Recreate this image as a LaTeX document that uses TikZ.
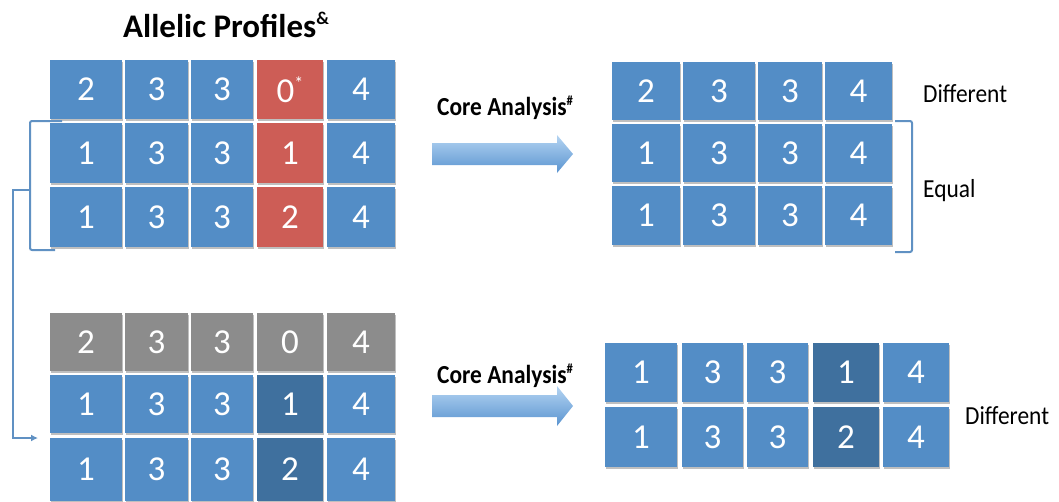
\documentclass[tikz,border=0pt]{standalone}
\usepackage{fontspec}
\setmainfont{Carlito}
\newfontfamily\labelfont[FakeStretch=0.9]{Carlito}
\usetikzlibrary{shadows,arrows.meta}

\definecolor{cellblue}{RGB}{83,141,198}
\definecolor{cellred}{RGB}{205,93,86}
\definecolor{cellgray}{RGB}{140,140,140}
\definecolor{celldark}{RGB}{63,112,158}
\definecolor{linkblue}{RGB}{96,145,195}
\definecolor{arrowlight}{RGB}{180,212,242}
\definecolor{arrowdark}{RGB}{90,148,208}

% one allele cell: name, x1, y1, x2, y2, fill colour, value
\newcommand\allelecell[7]{%
  \node[cellbox, fill=#6, minimum width={(#4-#2)*1pt}, minimum height={(#5-#3)*1pt}]
    (#1) at ({(#2+#4)/2},{(#3+#5)/2}) {#7};}

\tikzset{
  cellbox/.style={rectangle, inner sep=0pt, text=white,
    font=\fontsize{35}{35}\selectfont,
    drop shadow={shadow xshift=0.6pt, shadow yshift=-1.6pt, opacity=0.25, fill=black}},
  labeltext/.style={inner sep=0pt, text=black, font=\labelfont\bfseries\fontsize{26}{26}\selectfont},
  plaintext/.style={inner sep=0pt, text=black, font=\labelfont\fontsize{26}{26}\selectfont},
  titletext/.style={inner sep=0pt, text=black, font=\bfseries\fontsize{33}{33}\selectfont},
  linkline/.style={draw=linkblue, line width=2pt, rounded corners=2pt},
  bigarrow/.style={top color=arrowlight, bottom color=arrowdark, draw=none},
}
% raised small mark after a word or value
\newcommand\smallsup[2][15]{\raisebox{0.38em}{\fontsize{#1}{#1}\selectfont #2}}

\begin{document}
\begin{tikzpicture}[x=1pt, y=-1pt]
\useasboundingbox (0,0) rectangle (1059,501);

% title
\node[titletext, anchor=base west] (title) at (123,37) {Allelic Profiles\smallsup[18]{\&}};

% upper left: three profiles
\allelecell{a11}{50}{60}{122}{119}{cellblue}{2}
\allelecell{a12}{125}{60}{188}{119}{cellblue}{3}
\allelecell{a13}{191}{60}{253}{119}{cellblue}{3}
\allelecell{a14}{257}{60}{323}{119}{cellred}{0\smallsup[18]{*}}
\allelecell{a15}{327}{60}{395}{119}{cellblue}{4}
\allelecell{a21}{50}{123}{122}{183}{cellblue}{1}
\allelecell{a22}{125}{123}{188}{183}{cellblue}{3}
\allelecell{a23}{191}{123}{253}{183}{cellblue}{3}
\allelecell{a24}{257}{123}{323}{183}{cellred}{1}
\allelecell{a25}{327}{123}{395}{183}{cellblue}{4}
\allelecell{a31}{50}{187}{122}{247}{cellblue}{1}
\allelecell{a32}{125}{187}{188}{247}{cellblue}{3}
\allelecell{a33}{191}{187}{253}{247}{cellblue}{3}
\allelecell{a34}{257}{187}{323}{247}{cellred}{2}
\allelecell{a35}{327}{187}{395}{247}{cellblue}{4}

% upper right: core loci only
\allelecell{b11}{612}{62}{680}{120}{cellblue}{2}
\allelecell{b12}{683}{62}{755}{120}{cellblue}{3}
\allelecell{b13}{758}{62}{822}{120}{cellblue}{3}
\allelecell{b14}{825}{62}{892}{120}{cellblue}{4}
\allelecell{b21}{612}{124}{680}{182}{cellblue}{1}
\allelecell{b22}{683}{124}{755}{182}{cellblue}{3}
\allelecell{b23}{758}{124}{822}{182}{cellblue}{3}
\allelecell{b24}{825}{124}{892}{182}{cellblue}{4}
\allelecell{b31}{612}{186}{680}{245}{cellblue}{1}
\allelecell{b32}{683}{186}{755}{245}{cellblue}{3}
\allelecell{b33}{758}{186}{822}{245}{cellblue}{3}
\allelecell{b34}{825}{186}{892}{245}{cellblue}{4}

% lower left: profiles with the excluded one greyed
\allelecell{c11}{50}{313}{122}{371}{cellgray}{2}
\allelecell{c12}{125}{313}{188}{371}{cellgray}{3}
\allelecell{c13}{191}{313}{253}{371}{cellgray}{3}
\allelecell{c14}{257}{313}{323}{371}{cellgray}{0}
\allelecell{c15}{327}{313}{395}{371}{cellgray}{4}
\allelecell{c21}{50}{375}{122}{433}{cellblue}{1}
\allelecell{c22}{125}{375}{188}{433}{cellblue}{3}
\allelecell{c23}{191}{375}{253}{433}{cellblue}{3}
\allelecell{c24}{257}{375}{323}{433}{celldark}{1}
\allelecell{c25}{327}{375}{395}{433}{cellblue}{4}
\allelecell{c31}{50}{438}{122}{501}{cellblue}{1}
\allelecell{c32}{125}{438}{188}{501}{cellblue}{3}
\allelecell{c33}{191}{438}{253}{501}{cellblue}{3}
\allelecell{c34}{257}{438}{323}{501}{celldark}{2}
\allelecell{c35}{327}{438}{395}{501}{cellblue}{4}

% lower right
\allelecell{d11}{605}{343}{677}{402}{cellblue}{1}
\allelecell{d12}{682}{343}{743}{402}{cellblue}{3}
\allelecell{d13}{747}{343}{808}{402}{cellblue}{3}
\allelecell{d14}{813}{343}{879}{402}{celldark}{1}
\allelecell{d15}{883}{343}{949}{402}{cellblue}{4}
\allelecell{d21}{605}{407}{677}{467}{cellblue}{1}
\allelecell{d22}{682}{407}{743}{467}{cellblue}{3}
\allelecell{d23}{747}{407}{808}{467}{cellblue}{3}
\allelecell{d24}{813}{407}{879}{467}{celldark}{2}
\allelecell{d25}{883}{407}{949}{467}{cellblue}{4}

% core analysis arrows
\path[bigarrow] (432,143) -- (557,143) -- (557,135) -- (573,154) -- (557,173)
  -- (557,165) -- (432,165) -- cycle;
\node[labeltext, anchor=base west] (core1) at (437,115) {Core Analysis\smallsup[14]{\#}};
\path[bigarrow] (432,395) -- (557,395) -- (557,386) -- (573,406) -- (557,426)
  -- (557,417) -- (432,417) -- cycle;
\node[labeltext, anchor=base west] (core2) at (437,383) {Core Analysis\smallsup[14]{\#}};

% result labels
\node[plaintext, anchor=base west] (diff1) at (923,102) {Different};
\node[plaintext, anchor=base west] (equal) at (923,197) {Equal};
\node[plaintext, anchor=base west] (diff2) at (965,424) {Different};

% brackets and link
\coordinate (lbTop) at (62,121);
\coordinate (lbBot) at (55,250);
\coordinate (lbCorner) at (30,250);
\coordinate (lbMid) at (30,190);
\coordinate (linkEnd) at (38,438);
\draw[linkline] (lbTop) -| (lbCorner) -- (lbBot);
\draw[linkline, rounded corners=0pt, -{Latex[length=7pt,width=7pt]}]
  (lbMid) -| (13,438) -- (linkEnd);

\coordinate (rbTop) at (895,121);
\coordinate (rbBot) at (895,252);
\draw[linkline] (rbTop) -| (912,252) -- (rbBot);
\end{tikzpicture}
\end{document}
